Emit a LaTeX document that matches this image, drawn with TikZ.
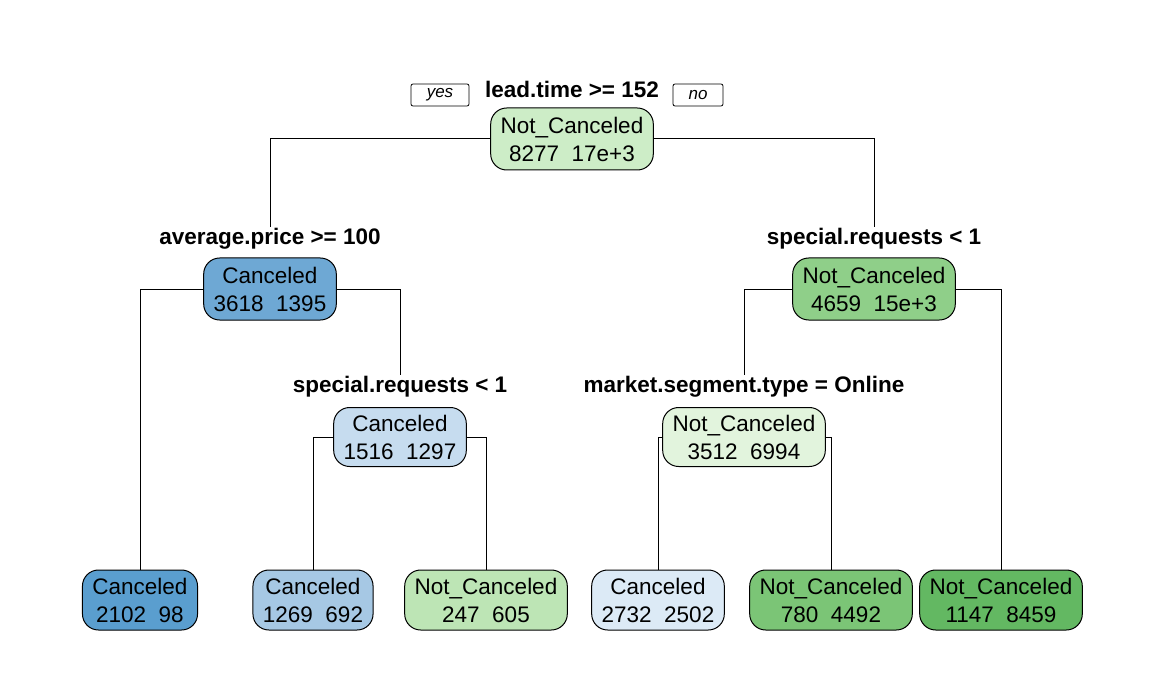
\documentclass[tikz,border=0pt]{standalone}
\usepackage{fontspec}
\setmainfont{Liberation Sans}
\definecolor{cRoot}{HTML}{CDEDC7}
\definecolor{cL2L}{HTML}{6EA8D4}
\definecolor{cL2R}{HTML}{8FCF89}
\definecolor{cL3L}{HTML}{C6DCEF}
\definecolor{cL3R}{HTML}{E2F4DD}
\definecolor{cF1}{HTML}{5A9ECF}
\definecolor{cF2}{HTML}{A6C8E4}
\definecolor{cF3}{HTML}{BDE5B5}
\definecolor{cF4}{HTML}{DCEAF6}
\definecolor{cF5}{HTML}{7BC576}
\definecolor{cF6}{HTML}{63B862}
\begin{document}
\begin{tikzpicture}[x=1pt,y=-1pt,
  treenode/.style={draw,line width=1pt,rounded corners=16pt,align=center,inner xsep=10pt,inner ysep=0pt,minimum height=#1,font=\fontsize{22.5}{28}\selectfont},
  treenode/.default=62pt,
  splitlabel/.style={inner sep=1pt,font=\bfseries\fontsize{22.5}{27}\selectfont},
  yn/.style={draw,line width=0.8pt,rounded corners=2pt,minimum width=58pt,minimum height=22pt,inner sep=0pt,font=\itshape\fontsize{17}{19}\selectfont},
  conn/.style={line width=1pt}]
\useasboundingbox (0,0) rectangle (1165,695);
% root
\node[splitlabel] (lab0) at (572,89) {lead.time >= 152};
\node[yn] (yes) at (440,95) {yes};
\node[yn,minimum width=50pt] (no) at (698,95) {no};
\node[treenode,fill=cRoot] (root) at (572,139) {Not\_Canceled\\8277\ \ 17e+3};
% level 2
\node[splitlabel] (lab2L) at (270,239) {average.price >= 100};
\node[treenode,fill=cL2L] (n2L) at (270,289) {Canceled\\3618\ \ 1395};
\node[splitlabel] (lab2R) at (874,239) {special.requests < 1};
\node[treenode,fill=cL2R] (n2R) at (874,289) {Not\_Canceled\\4659\ \ 15e+3};
% level 3
\node[splitlabel] (lab3L) at (400,387) {special.requests < 1};
\node[treenode=59pt,fill=cL3L] (n3L) at (400,437) {Canceled\\1516\ \ 1297};
\node[splitlabel] (lab3R) at (744,387) {market.segment.type = Online};
\node[treenode=59pt,fill=cL3R] (n3R) at (744,437) {Not\_Canceled\\3512\ \ 6994};
% leaves
\node[treenode=60pt,fill=cF1] (f1) at (140,600) {Canceled\\2102\ \ 98};
\node[treenode=60pt,fill=cF2] (f2) at (313,600) {Canceled\\1269\ \ 692};
\node[treenode=60pt,fill=cF3] (f3) at (486,600) {Not\_Canceled\\247\ \ 605};
\node[treenode=60pt,fill=cF4] (f4) at (658,600) {Canceled\\2732\ \ 2502};
\node[treenode=60pt,fill=cF5] (f5) at (831,600) {Not\_Canceled\\780\ \ 4492};
\node[treenode=60pt,fill=cF6] (f6) at (1001,600) {Not\_Canceled\\1147\ \ 8459};
% connectors
\draw[conn] (root.west) -| (lab2L.north);
\draw[conn] (root.east) -| (lab2R.north);
\draw[conn] (n2L.west) -| (f1.north);
\draw[conn] (n2L.east) -| (lab3L.north);
\draw[conn] (n2R.west) -| (lab3R.north);
\draw[conn] (n2R.east) -| (f6.north);
\draw[conn] (n3L.west) -| (f2.north);
\draw[conn] (n3L.east) -| (f3.north);
\draw[conn] (n3R.west) -| (f4.north);
\draw[conn] (n3R.east) -| (f5.north);
\end{tikzpicture}
\end{document}
